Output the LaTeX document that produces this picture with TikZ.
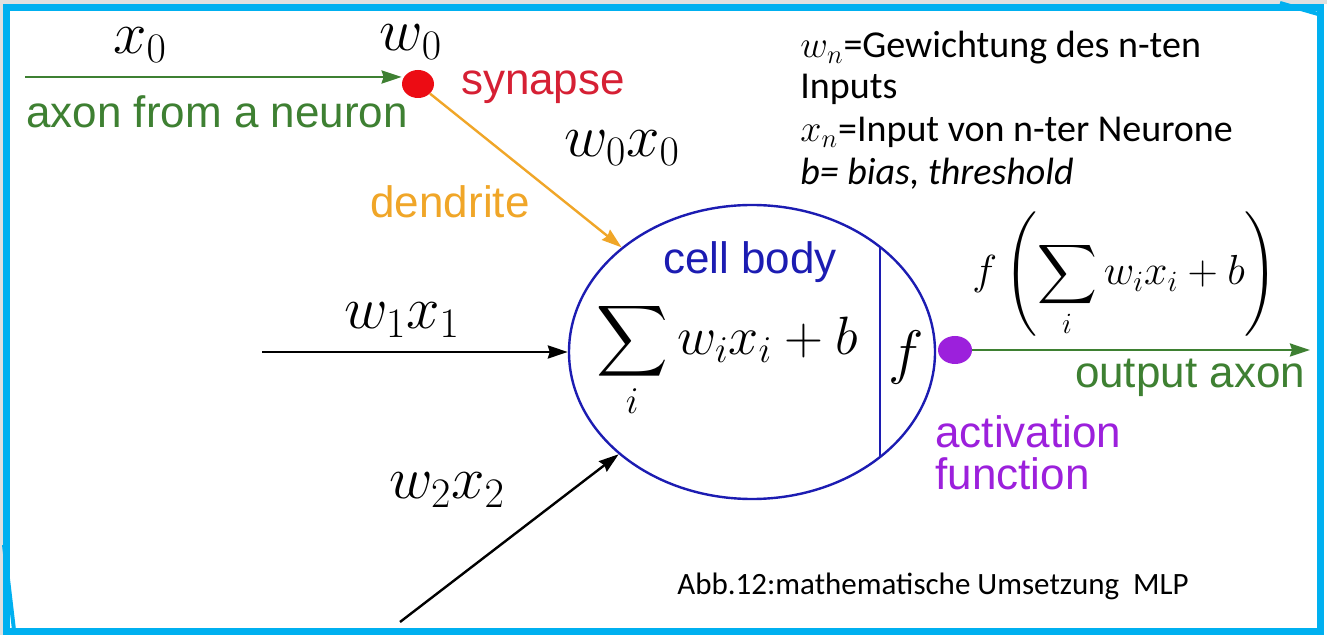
\RequirePackage{fix-cm}
\documentclass[tikz,border=0pt]{standalone}
\usepackage{exscale}
\usepackage{fontspec}
\setmainfont{Carlito}
\newfontfamily\helv{Liberation Sans}
\usetikzlibrary{arrows.meta,shapes.geometric}

\definecolor{axongreen}{RGB}{62,128,50}
\definecolor{synred}{RGB}{214,32,52}
\definecolor{dotred}{RGB}{236,12,20}
\definecolor{dendorange}{RGB}{240,166,40}
\definecolor{cellblue}{RGB}{28,28,178}
\definecolor{actpurple}{RGB}{156,32,220}
\definecolor{framecyan}{RGB}{0,176,240}

\begin{document}
\begin{tikzpicture}[x=0.5pt,y=-0.5pt,
 m/.style={inner sep=0pt,font=\fontsize{30}{34}\selectfont},
 s/.style={inner sep=0pt,font=\helv\fontsize{22}{26}\selectfont},
 k/.style={inner sep=0pt,anchor=base west,font=\fontsize{19}{23}\selectfont},
 d/.style={ellipse,inner sep=0pt,draw=none},
 a/.style={-{Stealth[length=10pt,width=6.5pt,inset=1pt]},line width=1.2pt}]
\useasboundingbox (0,0) rectangle (1327,635);
\fill[white] (0,0) rectangle (1327,635);
\fill[black!12] (0,0) rectangle (1327,4);
\fill[black!12] (0,0) rectangle (3,635);
\draw[framecyan,line width=3.5pt] (6.5,8) rectangle (1320,631.5);
\draw[framecyan,line width=2pt] (1280,3) -- (1318,14);
\draw[framecyan,line width=2pt] (4,545) -- (14,630);

% inputs
\node[m] (x0) at (140,45) {$x_0$};
\node[m] (w0) at (411,42) {$w_0$};
\node[d,fill=dotred,minimum width=16pt,minimum height=14pt] (syn) at (418,84) {};
\node[s,text=synred] (synlbl) at (543,87) {synapse};
\node[s,text=axongreen] (axlbl) at (217,112) {axon from a neuron};
\node[m] (w0x0) at (622,148) {$w_0x_0$};
\node[s,text=dendorange] (dendlbl) at (450,202) {dendrite};
\node[m] (w1x1) at (402,320) {$w_1x_1$};
\node[m] (w2x2) at (447,490) {$w_2x_2$};
\coordinate (axin) at (25,77);
\coordinate (w1in) at (262,352);
\coordinate (w2in) at (400,622);

% cell body
\node[ellipse,draw=cellblue,line width=1.2pt,minimum width=183pt,minimum height=147pt,inner sep=0pt] (cell) at (752,352) {};
\draw[cellblue,line width=1.2pt] (880,247) -- (880,457);
\node[s,text=cellblue] (celllbl) at (750,262) {cell body};
\node[m,font=\fontsize{27}{32}\selectfont] (sum) at (727,360) {$\displaystyle\sum_i w_ix_i+b$};
\node[m] (f) at (906,358) {$f$};

% output
\node[d,fill=actpurple,minimum width=17pt,minimum height=14pt] (act) at (955,350) {};
\coordinate (axout) at (1310,350);
\node[m,font=\fontsize{21}{25}\selectfont] (fout) at (1125,275) {$f\left(\displaystyle\sum_i w_ix_i+b\right)$};
\node[s,text=axongreen] (outlbl) at (1190,378) {output axon};
\node[s,text=actpurple,anchor=west] (actlbl1) at (935,432) {activation};
\node[s,text=actpurple,anchor=west] (actlbl2) at (935,474) {function};

\draw[a,axongreen] (axin) -- (axin -| syn.west);
\draw[a,dendorange] (syn) -- (cell);
\draw[a] (w1in) -- (cell);
\draw[a] (w2in) -- (cell);
\draw[a,axongreen] (act) -- (axout);

% legend
\node[k] (leg1) at (800,58) {$w_n$=Gewichtung des n-ten};
\node[k] (leg2) at (800,99) {Inputs};
\node[k] (leg3) at (800,142) {$x_n$=Input von n-ter Neurone};
\node[k] (leg4) at (800,185) {\itshape b= bias, threshold};
\node[k,font=\fontsize{15.5}{18}\selectfont] (cap) at (677,595) {Abb.12:mathematische Umsetzung\ \ MLP};
\end{tikzpicture}
\end{document}
